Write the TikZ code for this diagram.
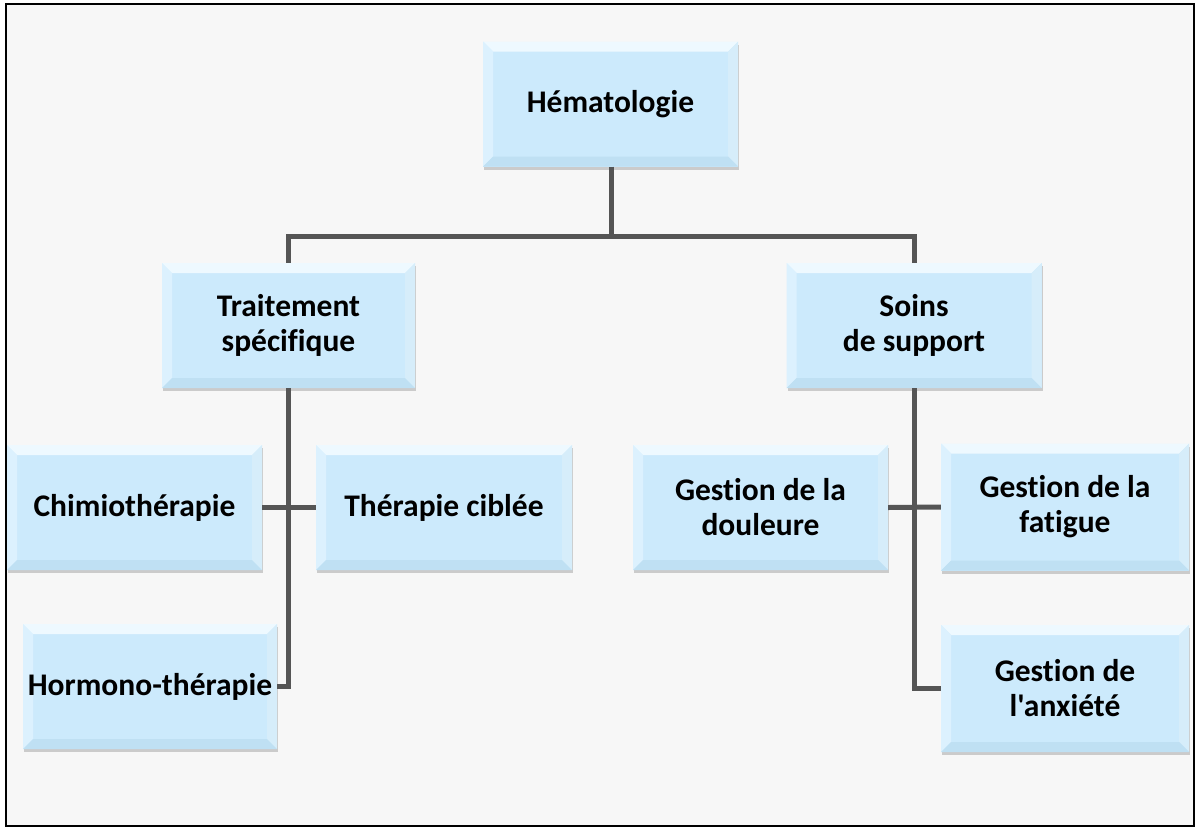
\documentclass[tikz,border=0pt]{standalone}
\usepackage{fontspec}
\newfontfamily\boxfont{Carlito}[RawFeature={-liga;-clig}]
\usetikzlibrary{shadows}
\definecolor{boxfill}{HTML}{CCEAFC}
\definecolor{bevtop}{HTML}{EEF9FF}
\definecolor{bevleft}{HTML}{DCF1FE}
\definecolor{bevright}{HTML}{D6EDFA}
\definecolor{bevbot}{HTML}{BFE0F3}
\definecolor{conn}{HTML}{555555}
\definecolor{pagebg}{HTML}{F7F7F7}
\tikzset{
  bevbox/.style={
    draw=none, fill=boxfill, minimum width=255pt, minimum height=125pt,
    inner sep=0pt, align=center,
    font=\boxfont\fontsize{31.5}{35}\selectfont\bfseries,
    drop shadow={shadow xshift=1pt, shadow yshift=-3pt, opacity=0.3, fill=black!60},
    path picture={
      \fill[bevtop] (path picture bounding box.north west) -- (path picture bounding box.north east)
        -- ([xshift=-10pt,yshift=-10pt]path picture bounding box.north east)
        -- ([xshift=10pt,yshift=-10pt]path picture bounding box.north west) -- cycle;
      \fill[bevleft] (path picture bounding box.north west) -- (path picture bounding box.south west)
        -- ([xshift=10pt,yshift=10pt]path picture bounding box.south west)
        -- ([xshift=10pt,yshift=-10pt]path picture bounding box.north west) -- cycle;
      \fill[bevright] (path picture bounding box.north east) -- (path picture bounding box.south east)
        -- ([xshift=-10pt,yshift=10pt]path picture bounding box.south east)
        -- ([xshift=-10pt,yshift=-10pt]path picture bounding box.north east) -- cycle;
      \fill[bevbot] (path picture bounding box.south west) -- (path picture bounding box.south east)
        -- ([xshift=-10pt,yshift=10pt]path picture bounding box.south east)
        -- ([xshift=10pt,yshift=10pt]path picture bounding box.south west) -- cycle;
    }
  },
  link/.style={draw=conn, line width=5pt}
}
\begin{document}
\begin{tikzpicture}[x=1pt,y=-1pt]
\useasboundingbox (0,0) rectangle (1196,828);
\fill[white] (0,0) rectangle (1196,828);
\draw[black, line width=2.5pt, fill=pagebg] (6,4) rectangle (1194,826);

\coordinate (lj) at (288.5,236);
\coordinate (rj) at (914,236);
\coordinate (tj) at (611,236);

\node[bevbox] (hem) at (610.5,104) {Hématologie};
\node[bevbox, minimum width=253pt] (trt) at (288.5,325.5) {Traitement\\spécifique};
\node[bevbox] (soins) at (914,325.5) {Soins\\de support};
\node[bevbox] (chimio) at (134.5,507.5) {Chimiothérapie};
\node[bevbox, minimum width=256pt] (cible) at (444,507.5) {Thérapie ciblée};
\node[bevbox, minimum width=254pt] (hormono) at (150,686.5) {Hormono-thérapie};
\node[bevbox] (douleur) at (760.5,507.5) {Gestion de la\\douleure};
\node[bevbox, minimum width=248pt, minimum height=127pt] (fatigue) at (1065,507) {Gestion de la\\fatigue};
\node[bevbox, minimum width=248pt, minimum height=127pt] (anx) at (1065,688.5) {Gestion de\\l'anxiété};

\draw[link] (hem.south -| tj) -- (tj);
\draw[link, line join=miter] (trt.north) -- (lj) -- (rj) -- (soins.north);
\draw[link, line join=miter] (trt.south) -- (trt.south |- hormono.east) -- (hormono.east);
\draw[link] (chimio.east) -- (cible.west);
\draw[link, line join=miter] (soins.south) -- (soins.south |- anx.west) -- (anx.west);
\draw[link] (douleur.east) -- (fatigue.west);
\end{tikzpicture}
\end{document}
